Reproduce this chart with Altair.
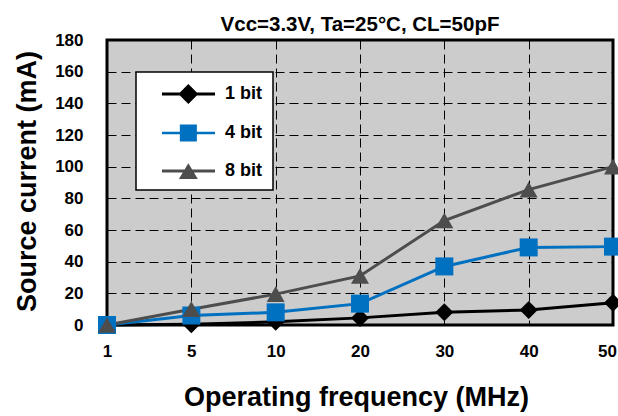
import altair as alt
import pandas as pd

freqs = ["1", "5", "10", "20", "30", "40", "50"]
bit1 = [0, 0.5, 2, 4.5, 8, 9.5, 14]
bit4 = [0, 6, 8, 13.5, 37, 49, 49.5]
bit8 = [0, 10, 19.5, 31, 66, 85.5, 100]
series_names = ["1 bit", "4 bit", "8 bit"]
colors = ["#000000", "#0070C0", "#4D4D4D"]
y_ticks = [0, 20, 40, 60, 80, 100, 120, 140, 160, 180]

FONT = "Liberation Sans Narrow, Arial Narrow, Liberation Sans, Arial, sans-serif"

rows = []
for name, vals in zip(series_names, [bit1, bit4, bit8]):
    for f, v in zip(freqs, vals):
        rows.append({"freq": f, "current": v, "series": name})
df = pd.DataFrame(rows)

# legend symbols: line + marker as one custom path
legend_paths = [
    "M0.33,-0.12H4.75V0.12H0.33Z M2.53,-0.83L3.36,0L2.53,0.83L1.70,0Z",
    "M0.33,-0.11H4.75V0.11H0.33Z M1.82,-0.71H3.24V0.71H1.82Z",
    "M0.33,-0.12H4.75V0.12H0.33Z M2.53,-0.64L3.32,0.67H1.74Z",
]

x = alt.X(
    "freq:O",
    sort=freqs,
    scale=alt.Scale(type="point", padding=0),
    axis=alt.Axis(
        title="Operating frequency (MHz)",
        labelAngle=0,
        labelPadding=18,
        labelOffset={
            "condition": {"test": "datum.label == '50'", "value": -6},
            "value": 0,
        },
        titleX=249,
        titleY=80,
        titleAlign="center",
        titleBaseline="alphabetic",
    ),
)
y = alt.Y(
    "current:Q",
    scale=alt.Scale(domain=[0, 180], nice=False, zero=True),
    axis=alt.Axis(
        values=y_ticks,
        title="Source current (mA)",
        labelPadding=24,
        titleX=-72,
        titleY=141,
        titleAngle=-90,
        titleAlign="center",
        titleBaseline="alphabetic",
    ),
)

color_scale = alt.Scale(domain=series_names, range=colors)

lines = alt.Chart(df).mark_line(strokeWidth=3).encode(
    x=x, y=y, color=alt.Color("series:N", scale=color_scale, legend=None),
    detail="series:N",
)

points = alt.Chart(df).mark_point(filled=True, opacity=1, strokeWidth=0).encode(
    x=x,
    y=y,
    color=alt.Color("series:N", scale=color_scale, legend=None),
    shape=alt.Shape(
        "series:N",
        scale=alt.Scale(domain=series_names, range=["diamond", "square", "triangle-up"]),
        legend=None,
    ),
    size=alt.Size(
        "series:O",
        scale=alt.Scale(domain=series_names, range=[324, 324, 289]),
        legend=None,
    ),
)

leg = alt.Legend(
    title=None,
    orient="none",
    legendX=29,
    legendY=32,
    fillColor="white",
    strokeColor="black",
    padding=10,
    rowPadding=17,
    symbolSize=576,
    symbolStrokeWidth=0,
    symbolOpacity=1,
    labelOffset=55,
    labelFont=FONT,
    labelFontSize=18,
    labelFontWeight="bold",
    labelColor="black",
    labelExpr="datum.label + '            '",
)

legend_layer = alt.Chart(df).mark_point(filled=True, opacity=1, size=576).transform_filter(
    "false"
).encode(
    x=x,
    y=y,
    color=alt.Color("series:N", scale=color_scale, legend=leg),
    shape=alt.Shape(
        "series:N",
        scale=alt.Scale(domain=series_names, range=legend_paths),
        legend=leg,
    ),
)

chart = (
    alt.layer(lines, points, legend_layer)
    .resolve_scale(color="independent", shape="independent", size="independent")
    .properties(
        width=506,
        height=285,
        autosize=alt.AutoSizeParams(type="none"),
        padding={"left": 107, "top": 40, "right": 5, "bottom": 91},
        background="white",
        title=alt.TitleParams(
            "Vcc=3.3V, Ta=25°C, CL=50pF",
            font=FONT,
            fontSize=20.5,
            fontWeight="bold",
            color="black",
            anchor="middle",
            frame="group",
            baseline="alphabetic",
            offset=4,
            dy=24,
        ),
    )
    .configure_view(fill="#cccccc", stroke="black", strokeWidth=3)
    .configure_legend(strokeWidth=1.5)
    .configure_axis(
        labelFont=FONT,
        labelFontSize=17,
        labelFontWeight="bold",
        labelColor="black",
        titleFont=FONT,
        titleFontSize=27,
        titleFontWeight="bold",
        titleColor="black",
        grid=True,
        gridColor="black",
        gridDash=[9, 5],
        gridWidth=1,
        gridOpacity=1,
        domain=False,
        ticks=False,
        tickSize=0,
    )
)

chart.save("out.html", embed_options={"renderer": "svg", "actions": False})
